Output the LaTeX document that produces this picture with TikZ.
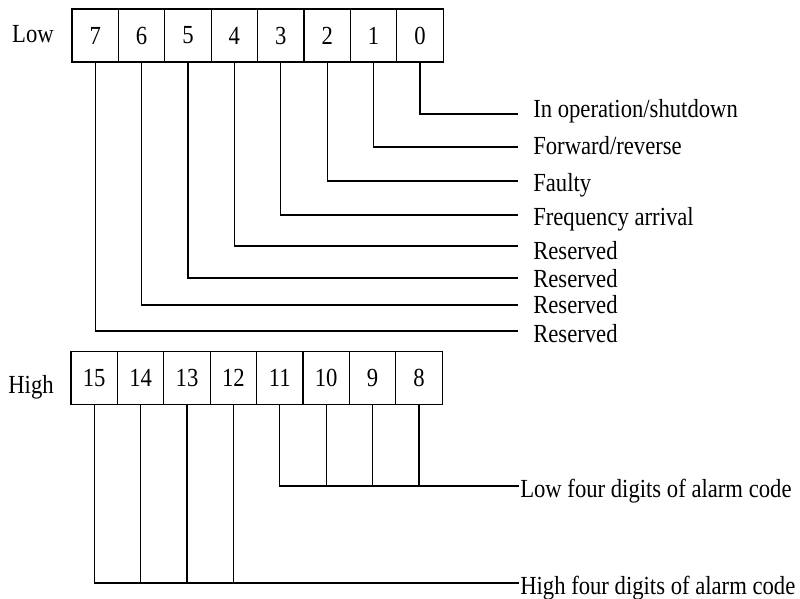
\documentclass[tikz,border=0pt]{standalone}
\usepackage{fontspec}
\setmainfont{Liberation Serif}
\newcommand{\stretchtxt}[1]{\scalebox{1}[1.15]{#1}}

\begin{document}
\begin{tikzpicture}[x=.75pt,y=-.75pt,line join=miter,
  bitbox/.style={draw,line width=.9pt,minimum width=34.8pt,minimum height=39.75pt,
    inner sep=0pt,font=\fontsize{17}{20}\selectfont},
  lbl/.style={anchor=base west,inner sep=0pt,font=\fontsize{17}{20}\selectfont},
  wire/.style={line width=.9pt}]
  \useasboundingbox (0,0) rectangle (800,599);
  % low byte
  \node[lbl,anchor=base] (low) at (33,43) {\stretchtxt{Low}};
  \foreach \b [count=\i from 0] in {7,...,0}
    \node[bitbox] (lo\b) at (95.2+46.4*\i,35.5) {\stretchtxt{\b}};
  \foreach \b/\y/\ty/\t in {0/114/118/{In operation/shutdown},1/147/155/{Forward/reverse},
      2/181/192/Faulty,3/215/226/Frequency arrival,4/246/260/Reserved,
      5/278/287/Reserved,6/305/313/Reserved,7/331/342/Reserved}{
    \coordinate (e\b) at (518,\y);
    \draw[wire] (lo\b.south) |- (e\b);
    \node[lbl] (t\b) at (533,\ty) {\stretchtxt{\t}};
  }
  % high byte
  \node[lbl,anchor=base] (high) at (31,393) {\stretchtxt{High}};
  \foreach \b [count=\i from 0] in {15,...,8}
    \node[bitbox] (hi\b) at (94.2+46.4*\i,378) {\stretchtxt{\b}};
  \coordinate (el) at (519,486);
  \coordinate (eh) at (519,583);
  \draw[wire] (hi11.south) |- (el);
  \foreach \b in {10,9,8}
    \draw[wire] (hi\b.south) -- (hi\b.south |- el);
  \draw[wire] (hi15.south) |- (eh);
  \foreach \b in {14,13,12}
    \draw[wire] (hi\b.south) -- (hi\b.south |- eh);
  \node[lbl] (lowcode) at (520,497) {\stretchtxt{Low four digits of alarm code}};
  \node[lbl] (highcode) at (520,594) {\stretchtxt{High four digits of alarm code}};
\end{tikzpicture}
\end{document}
